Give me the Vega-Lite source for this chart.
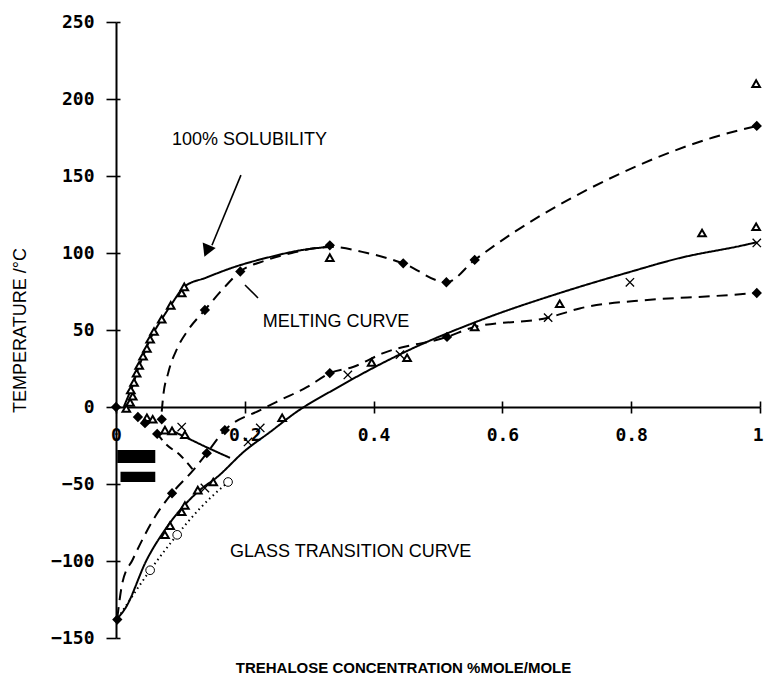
{
  "$schema": "https://vega.github.io/schema/vega-lite/v6.json",
  "width": 644,
  "height": 616,
  "autosize": {"type": "none"},
  "padding": {"left": 116, "top": 22, "right": 4, "bottom": 44},
  "background": "white",
  "config": {
    "view": {"stroke": null},
    "axis": {"grid": false, "domainColor": "black", "tickColor": "black", "labelColor": "black", "titleColor": "black"}
  },
  "datasets": {
    "curves": [
      {"curve": "solubility", "x": 0.012, "y": 0}, {"curve": "solubility", "x": 0.02, "y": 8}, {"curve": "solubility", "x": 0.026, "y": 14}, {"curve": "solubility", "x": 0.032, "y": 22}, {"curve": "solubility", "x": 0.042, "y": 33}, {"curve": "solubility", "x": 0.053, "y": 44}, {"curve": "solubility", "x": 0.071, "y": 57}, {"curve": "solubility", "x": 0.085, "y": 66}, {"curve": "solubility", "x": 0.106, "y": 78}, {"curve": "solubility", "x": 0.14, "y": 84}, {"curve": "solubility", "x": 0.181, "y": 90.5}, {"curve": "solubility", "x": 0.24, "y": 97.5}, {"curve": "solubility", "x": 0.29, "y": 102}, {"curve": "solubility", "x": 0.332, "y": 104},
      {"curve": "melting", "x": 0.071, "y": -3}, {"curve": "melting", "x": 0.073, "y": 6}, {"curve": "melting", "x": 0.081, "y": 22}, {"curve": "melting", "x": 0.095, "y": 38}, {"curve": "melting", "x": 0.112, "y": 50}, {"curve": "melting", "x": 0.138, "y": 63}, {"curve": "melting", "x": 0.169, "y": 78}, {"curve": "melting", "x": 0.193, "y": 88}, {"curve": "melting", "x": 0.231, "y": 95}, {"curve": "melting", "x": 0.273, "y": 100}, {"curve": "melting", "x": 0.332, "y": 104}, {"curve": "melting", "x": 0.39, "y": 100}, {"curve": "melting", "x": 0.446, "y": 93.3}, {"curve": "melting", "x": 0.513, "y": 81}, {"curve": "melting", "x": 0.557, "y": 95.5}, {"curve": "melting", "x": 0.62, "y": 114}, {"curve": "melting", "x": 0.7, "y": 134}, {"curve": "melting", "x": 0.778, "y": 150.6}, {"curve": "melting", "x": 0.927, "y": 175}, {"curve": "melting", "x": 0.995, "y": 182.5},
      {"curve": "ice", "x": 0.09, "y": -16}, {"curve": "ice", "x": 0.11, "y": -20}, {"curve": "ice", "x": 0.14, "y": -26}, {"curve": "ice", "x": 0.177, "y": -33},
      {"curve": "ice-tm", "x": 0.064, "y": -17.5}, {"curve": "ice-tm", "x": 0.079, "y": -24.7}, {"curve": "ice-tm", "x": 0.099, "y": -31}, {"curve": "ice-tm", "x": 0.12, "y": -41},
      {"curve": "tg-a", "x": 0.002, "y": -137}, {"curve": "tg-a", "x": 0.01, "y": -114}, {"curve": "tg-a", "x": 0.026, "y": -99}, {"curve": "tg-a", "x": 0.064, "y": -69}, {"curve": "tg-a", "x": 0.087, "y": -56}, {"curve": "tg-a", "x": 0.12, "y": -41}, {"curve": "tg-a", "x": 0.141, "y": -30}, {"curve": "tg-a", "x": 0.169, "y": -15}, {"curve": "tg-a", "x": 0.224, "y": -2}, {"curve": "tg-a", "x": 0.255, "y": 4.5}, {"curve": "tg-a", "x": 0.297, "y": 13}, {"curve": "tg-a", "x": 0.332, "y": 22}, {"curve": "tg-a", "x": 0.368, "y": 26}, {"curve": "tg-a", "x": 0.415, "y": 35}, {"curve": "tg-a", "x": 0.514, "y": 45.5}, {"curve": "tg-a", "x": 0.557, "y": 52}, {"curve": "tg-a", "x": 0.671, "y": 58}, {"curve": "tg-a", "x": 0.72, "y": 64}, {"curve": "tg-a", "x": 0.825, "y": 69.5}, {"curve": "tg-a", "x": 0.927, "y": 72}, {"curve": "tg-a", "x": 0.995, "y": 74},
      {"curve": "tg-b", "x": 0.003, "y": -137}, {"curve": "tg-b", "x": 0.014, "y": -131}, {"curve": "tg-b", "x": 0.048, "y": -99}, {"curve": "tg-b", "x": 0.079, "y": -78}, {"curve": "tg-b", "x": 0.13, "y": -54}, {"curve": "tg-b", "x": 0.157, "y": -45.5}, {"curve": "tg-b", "x": 0.2, "y": -28.5}, {"curve": "tg-b", "x": 0.24, "y": -16}, {"curve": "tg-b", "x": 0.281, "y": -3}, {"curve": "tg-b", "x": 0.337, "y": 11}, {"curve": "tg-b", "x": 0.45, "y": 36}, {"curve": "tg-b", "x": 0.57, "y": 57}, {"curve": "tg-b", "x": 0.689, "y": 74}, {"curve": "tg-b", "x": 0.798, "y": 87.7}, {"curve": "tg-b", "x": 0.876, "y": 96.8}, {"curve": "tg-b", "x": 0.974, "y": 105}, {"curve": "tg-b", "x": 0.995, "y": 107},
      {"curve": "tg-c", "x": 0.003, "y": -137}, {"curve": "tg-c", "x": 0.014, "y": -130}, {"curve": "tg-c", "x": 0.053, "y": -106}, {"curve": "tg-c", "x": 0.095, "y": -83}, {"curve": "tg-c", "x": 0.13, "y": -66}, {"curve": "tg-c", "x": 0.174, "y": -48.7}
    ],
    "points": [
      {"s": "s1", "x": 0.016, "y": -1}, {"s": "s1", "x": 0.022, "y": 3}, {"s": "s1", "x": 0.026, "y": 7}, {"s": "s1", "x": 0.023, "y": 11}, {"s": "s1", "x": 0.028, "y": 16}, {"s": "s1", "x": 0.032, "y": 22}, {"s": "s1", "x": 0.036, "y": 27}, {"s": "s1", "x": 0.042, "y": 33}, {"s": "s1", "x": 0.048, "y": 38}, {"s": "s1", "x": 0.053, "y": 44}, {"s": "s1", "x": 0.059, "y": 49}, {"s": "s1", "x": 0.071, "y": 57}, {"s": "s1", "x": 0.085, "y": 66}, {"s": "s1", "x": 0.102, "y": 74}, {"s": "s1", "x": 0.106, "y": 78},
      {"s": "s1", "x": 0.048, "y": -7}, {"s": "s1", "x": 0.057, "y": -8}, {"s": "s1", "x": 0.076, "y": -15}, {"s": "s1", "x": 0.087, "y": -15.5}, {"s": "s1", "x": 0.107, "y": -18},
      {"s": "s1", "x": 0.076, "y": -83}, {"s": "s1", "x": 0.084, "y": -77}, {"s": "s1", "x": 0.102, "y": -68}, {"s": "s1", "x": 0.107, "y": -64}, {"s": "s1", "x": 0.127, "y": -54}, {"s": "s1", "x": 0.151, "y": -48.7}, {"s": "s1", "x": 0.258, "y": -7},
      {"s": "s1", "x": 0.332, "y": 97}, {"s": "s1", "x": 0.397, "y": 29}, {"s": "s1", "x": 0.452, "y": 32}, {"s": "s1", "x": 0.557, "y": 52}, {"s": "s1", "x": 0.689, "y": 67}, {"s": "s1", "x": 0.91, "y": 113}, {"s": "s1", "x": 0.994, "y": 117}, {"s": "s1", "x": 0.994, "y": 210},
      {"s": "s2", "x": 0, "y": 0}, {"s": "s2", "x": 0.034, "y": -6.5}, {"s": "s2", "x": 0.045, "y": -10.5}, {"s": "s2", "x": 0.071, "y": -8}, {"s": "s2", "x": 0.064, "y": -17.5}, {"s": "s2", "x": 0.002, "y": -138}, {"s": "s2", "x": 0.087, "y": -56}, {"s": "s2", "x": 0.141, "y": -30}, {"s": "s2", "x": 0.169, "y": -15}, {"s": "s2", "x": 0.332, "y": 22}, {"s": "s2", "x": 0.514, "y": 45.5}, {"s": "s2", "x": 0.995, "y": 74}, {"s": "s2", "x": 0.138, "y": 63}, {"s": "s2", "x": 0.193, "y": 88}, {"s": "s2", "x": 0.332, "y": 105}, {"s": "s2", "x": 0.446, "y": 93.3}, {"s": "s2", "x": 0.513, "y": 81}, {"s": "s2", "x": 0.557, "y": 95.5}, {"s": "s2", "x": 0.995, "y": 182.5},
      {"s": "s3", "x": 0.102, "y": -13}, {"s": "s3", "x": 0.205, "y": -22.7}, {"s": "s3", "x": 0.224, "y": -13.6}, {"s": "s3", "x": 0.138, "y": -52.6}, {"s": "s3", "x": 0.36, "y": 20.8}, {"s": "s3", "x": 0.441, "y": 34}, {"s": "s3", "x": 0.671, "y": 58}, {"s": "s3", "x": 0.798, "y": 81}, {"s": "s3", "x": 0.995, "y": 106.5},
      {"s": "s4", "x": 0.053, "y": -106}, {"s": "s4", "x": 0.095, "y": -83}, {"s": "s4", "x": 0.174, "y": -48.7}
    ],
    "bars": [
      {"x": 0.002, "x2": 0.061, "y": -28, "y2": -36.4},
      {"x": 0.007, "x2": 0.061, "y": -42, "y2": -48.7}
    ],
    "labels": [
      {"text": "100% SOLUBILITY", "x": 0.087, "y": 173.7},
      {"text": "MELTING CURVE", "x": 0.228, "y": 55.2},
      {"text": "GLASS TRANSITION CURVE", "x": 0.177, "y": -94.2}
    ],
    "arrows": [
      {"arrow": "solubility", "x": 0.194, "y": 150.6}, {"arrow": "solubility", "x": 0.149, "y": 105},
      {"arrow": "melting", "x": 0.2205, "y": 70.8}, {"arrow": "melting", "x": 0.2003, "y": 79.2}
    ],
    "heads": [
      {"arrow": "solubility", "x": 0.141, "y": 101.3}
    ]
  },
  "resolve": {"scale": {"x": "shared", "y": "shared"}, "axis": {"x": "independent", "y": "independent"}},
  "layer": [
    {
      "data": {"name": "curves"},
      "mark": {"type": "line", "color": "black", "strokeWidth": 2, "interpolate": "monotone"},
      "encoding": {
        "x": {"field": "x", "type": "quantitative", "scale": {"domain": [0, 1], "nice": false, "zero": false},
          "axis": {"orient": "bottom", "offset": -231, "values": [0, 0.2, 0.4, 0.6, 0.8, 1],
            "labelExpr": "datum.value == 0 ? '0' : datum.value == 1 ? '1' : format(datum.value, '.1f')",
            "labelAlign": {"condition": {"test": "datum.value == 1", "value": "right"}, "value": "center"},
            "labelOffset": {"condition": {"test": "datum.value == 1", "value": 3}, "value": 0},
            "tickSize": 6, "tickWidth": 1.6, "domainWidth": 2, "labelFont": "DejaVu Sans Mono", "labelFontWeight": "bold", "labelFontSize": 18, "labelPadding": 13, "labelFlush": false, "labelOverlap": false,
            "title": "TREHALOSE CONCENTRATION %MOLE/MOLE", "titleFont": "Liberation Sans", "titleFontWeight": "bold", "titleFontSize": 15, "titleBaseline": "middle", "titleY": 260, "titleX": 287}},
        "y": {"field": "y", "type": "quantitative", "scale": {"domain": [-150, 250], "nice": false, "zero": false},
          "axis": {"orient": "left", "values": [-150, -100, -50, 0, 50, 100, 150, 200, 250], "tickSize": 10, "tickWidth": 1.6, "domainWidth": 2,
            "labelFont": "DejaVu Sans Mono", "labelFontWeight": "bold", "labelFontSize": 18, "labelPadding": 12, "labelFlush": false, "labelOverlap": false,
            "title": "TEMPERATURE /°C", "titleFont": "Liberation Sans", "titleFontWeight": "normal", "titleFontSize": 18, "titleX": -96, "titleY": 308, "titleBaseline": "middle", "titleAlign": "center", "titleAngle": -90}},
        "detail": {"field": "curve"},
        "strokeDash": {"field": "curve", "type": "nominal", "legend": null,
          "scale": {"domain": ["solubility", "melting", "ice", "ice-tm", "tg-a", "tg-b", "tg-c"], "range": [[1, 0], [11, 7], [1, 0], [8, 6], [11, 7], [1, 0], [1.5, 3.5]]}}
      }
    },
    {
      "data": {"name": "bars"},
      "mark": {"type": "rect", "color": "black"},
      "encoding": {
        "x": {"field": "x", "type": "quantitative", "axis": null},
        "x2": {"field": "x2"},
        "y": {"field": "y", "type": "quantitative", "axis": null},
        "y2": {"field": "y2"}
      }
    },
    {
      "data": {"name": "points"},
      "mark": {"type": "point", "filled": true, "stroke": "black", "opacity": 1},
      "encoding": {
        "x": {"field": "x", "type": "quantitative",
          "axis": {"orient": "top", "offset": -385, "values": [0.2, 0.4, 0.6, 0.8, 1], "labels": false, "domain": false, "tickSize": 6, "tickWidth": 1.6, "title": null}},
        "y": {"field": "y", "type": "quantitative",
          "axis": {"orient": "right", "offset": -644, "values": [-150, -100, -50, 0, 50, 100, 150, 200, 250], "labels": false, "domain": false, "tickSize": 4, "tickWidth": 1.6, "title": null}},
        "shape": {"field": "s", "type": "nominal", "legend": null,
          "scale": {"domain": ["s1", "s2", "s3", "s4"], "range": ["triangle-up", "diamond", "M-1,-1L1,1M-1,1L1,-1", "circle"]}},
        "fill": {"field": "s", "type": "nominal", "legend": null,
          "scale": {"domain": ["s1", "s2", "s3", "s4"], "range": ["white", "black", "transparent", "white"]}},
        "size": {"field": "s", "type": "nominal", "legend": null,
          "scale": {"domain": ["s1", "s2", "s3", "s4"], "range": [58, 75, 60, 55]}},
        "strokeWidth": {"field": "s", "type": "nominal", "legend": null,
          "scale": {"domain": ["s1", "s2", "s3", "s4"], "range": [2, 1, 2.6, 2]}}
      }
    },
    {
      "data": {"name": "labels"},
      "mark": {"type": "text", "align": "left", "baseline": "middle", "font": "Liberation Sans", "fontSize": 18, "color": "black"},
      "encoding": {
        "x": {"field": "x", "type": "quantitative", "axis": null},
        "y": {"field": "y", "type": "quantitative", "axis": null},
        "text": {"field": "text"}
      }
    },
    {
      "data": {"name": "arrows"},
      "mark": {"type": "line", "color": "black", "strokeWidth": 1.6},
      "encoding": {
        "x": {"field": "x", "type": "quantitative", "axis": null},
        "y": {"field": "y", "type": "quantitative", "axis": null},
        "detail": {"field": "arrow"}
      }
    },
    {
      "data": {"name": "heads"},
      "mark": {"type": "point", "shape": "triangle-up", "filled": true, "color": "black", "opacity": 1, "size": 200, "angle": 203},
      "encoding": {
        "x": {"field": "x", "type": "quantitative", "axis": null},
        "y": {"field": "y", "type": "quantitative", "axis": null}
      }
    }
  ]
}
